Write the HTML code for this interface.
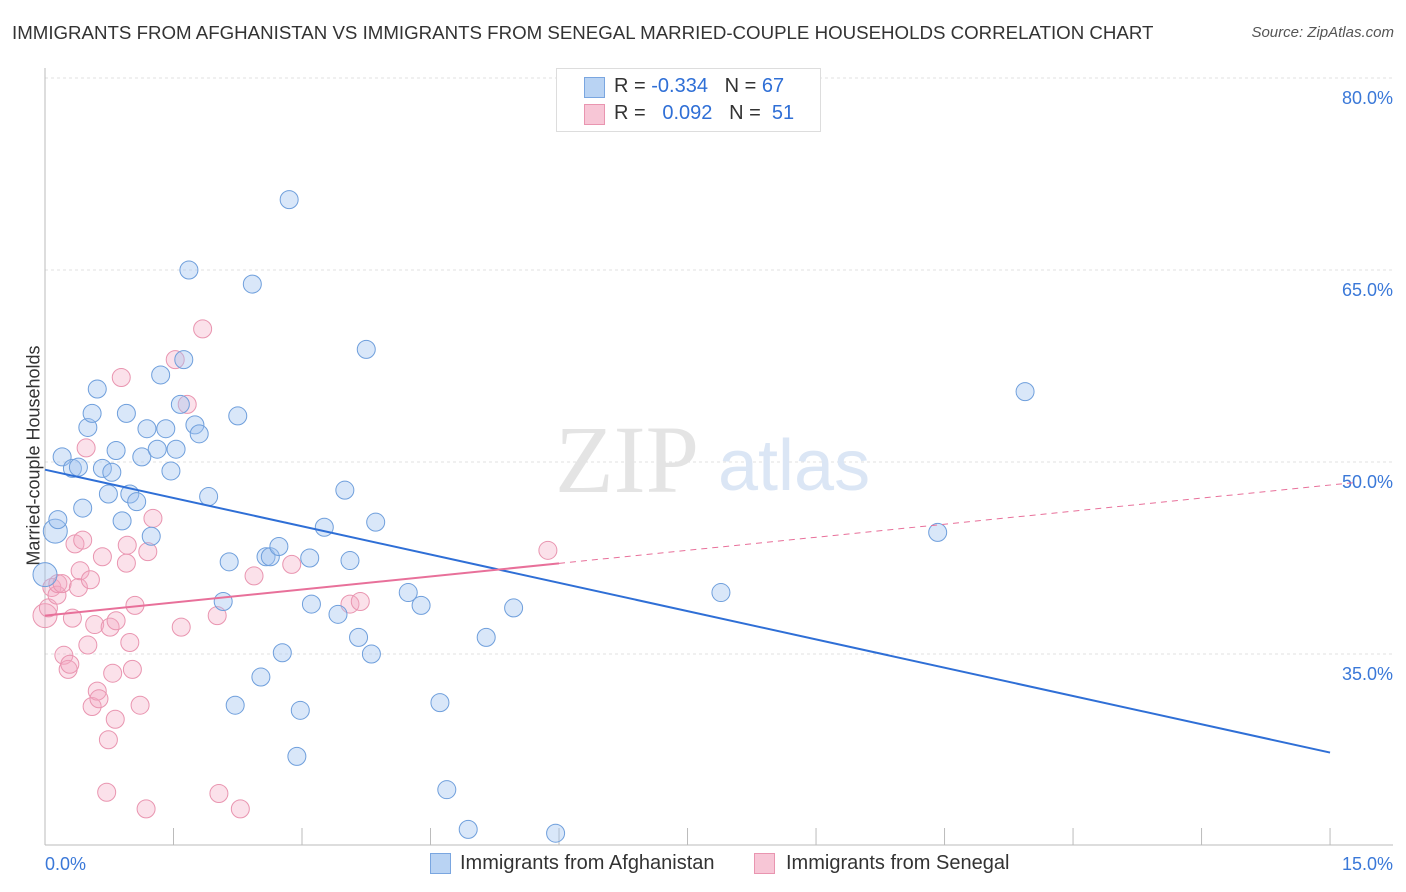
<!DOCTYPE html>
<html><head><meta charset="utf-8"><style>
body{margin:0;background:#fff;font-family:"Liberation Sans",sans-serif;}
#wrap{position:relative;width:1406px;height:892px;overflow:hidden;}
.t{position:absolute;white-space:nowrap;}
</style></head><body>
<div id="wrap">
<div class="t" style="left:12px;top:22px;font-size:18.7px;color:#333;">IMMIGRANTS FROM AFGHANISTAN VS IMMIGRANTS FROM SENEGAL MARRIED-COUPLE HOUSEHOLDS CORRELATION CHART</div>
<div class="t" style="right:12px;top:24px;font-size:15px;color:#555;font-style:italic;">Source: ZipAtlas.com</div>
<div class="t" style="left:-76px;top:445px;font-size:18px;color:#333;transform:rotate(-90deg);">Married-couple Households</div>
<svg id="svg" width="1406" height="892" style="position:absolute;left:0;top:0"></svg>
<div style="position:absolute;left:556px;top:68px;width:263px;height:62px;border:1px solid #ddd;background:#fff;">
 <div style="position:absolute;left:27px;top:8px;width:19px;height:19px;background:#b9d3f3;border:1px solid #7aa6e0;"></div>
 <div class="t" style="left:57px;top:6px;font-size:20px;color:#333;">R = <span style="color:#2f6fd6">-0.334</span>&nbsp;&nbsp;&nbsp;N = <span style="color:#2f6fd6">67</span></div>
 <div style="position:absolute;left:27px;top:35px;width:19px;height:19px;background:#f7c6d6;border:1px solid #e995b0;"></div>
 <div class="t" style="left:57px;top:33px;font-size:20px;color:#333;">R = &nbsp;&nbsp;<span style="color:#2f6fd6">0.092</span>&nbsp;&nbsp;&nbsp;N = &nbsp;<span style="color:#2f6fd6">51</span></div>
</div>
<div style="position:absolute;left:430px;top:853px;">
 <div style="position:absolute;left:0;top:0;width:19px;height:19px;background:#b9d3f3;border:1px solid #7aa6e0;"></div>
 <div class="t" style="left:30px;top:-1px;font-size:20px;color:#333;">Immigrants from Afghanistan</div></div>
<div style="position:absolute;left:754px;top:853px;">
 <div style="position:absolute;left:0;top:0;width:19px;height:19px;background:#f7c6d6;border:1px solid #e995b0;"></div>
 <div class="t" style="left:32px;top:-1px;font-size:20px;color:#333;">Immigrants from Senegal</div></div>
</div>
<script>
const blueX=[0,0.12,0.15,0.2,0.32,0.39,0.44,0.5,0.55,0.61,0.67,0.74,0.78,0.83,0.9,0.95,0.99,1.07,1.13,1.19,1.24,1.31,1.35,1.41,1.47,1.53,1.58,1.62,1.68,1.75,1.8,1.91,2.15,2.08,2.22,2.25,2.42,2.52,2.58,2.63,2.73,2.77,2.85,2.98,2.94,3.09,3.11,3.26,3.42,3.5,3.56,3.66,3.75,3.81,3.86,4.24,4.39,4.61,4.69,4.94,5.15,5.47,5.96,7.89,10.42,11.44];
const blueY=[41.2,44.6,45.5,50.4,49.5,49.6,46.4,52.7,53.8,55.7,49.5,47.5,49.2,50.9,45.4,53.8,47.5,46.9,50.4,52.6,44.2,51.0,56.8,52.6,49.3,51.0,54.5,58.0,65.0,52.9,52.2,47.3,42.2,39.1,31.0,53.6,63.9,33.2,42.6,42.6,43.4,35.1,70.5,30.6,27.0,42.5,38.9,44.9,38.1,47.8,42.3,36.3,58.8,35.0,45.3,39.8,38.8,31.2,24.4,21.3,36.3,38.6,21.0,39.8,44.5,55.5];
const pinkX=[0,0.04,0.08,0.14,0.15,0.2,0.22,0.27,0.29,0.32,0.35,0.39,0.41,0.44,0.48,0.5,0.53,0.55,0.58,0.61,0.63,0.67,0.72,0.74,0.76,0.79,0.83,0.82,0.89,0.95,0.96,0.99,1.02,1.05,1.11,1.18,1.2,1.26,1.52,1.59,1.66,1.84,2.01,2.03,2.28,2.44,2.88,3.56,3.68,5.87];
const pinkY=[38.0,38.6,40.2,39.6,40.5,40.5,34.9,33.8,34.2,37.8,43.6,40.2,41.5,43.9,51.1,35.7,40.8,30.9,37.3,32.1,31.5,42.6,24.2,28.3,37.1,33.5,37.6,29.9,56.6,42.1,43.5,35.9,33.8,38.8,31.0,22.9,43.0,45.6,58.0,37.1,54.5,60.4,38.0,24.1,22.9,41.1,42.0,38.9,39.1,43.1];
const yTicks=[80,65,50,35];
const xLabels=["0.0%","15.0%"];
const blueTrend=[49.4,27.3], pinkTrend=[38.0,48.2];
const X=v=>45+v*85.67, Y=v=>78+(80-v)*12.8;
const svg=document.getElementById('svg'),NS='http://www.w3.org/2000/svg';
function mk(t,a,p){const e=document.createElementNS(NS,t);for(const k in a)e.setAttribute(k,a[k]);(p||svg).appendChild(e);return e;}
yTicks.forEach(v=>{const l=mk('line',{x1:45,x2:1393,y1:Y(v),y2:Y(v),stroke:'#e0e0e0','stroke-dasharray':'3,3'});


const t=mk('text',{x:1393,y:Y(v)+26,'text-anchor':'end','font-size':18,fill:'#3a78d8','font-family':'Liberation Sans'});t.textContent=v.toFixed(1)+'%';

});
mk('line',{x1:45,x2:45,y1:68,y2:845,stroke:'#bbb'});
mk('line',{x1:45,x2:1393,y1:845,y2:845,stroke:'#bbb'});
for(let i=0;i<=10;i++){const x=X(i*1.5);const tk=mk('line',{x1:x,x2:x,y1:828,y2:845,stroke:'#bbb'});

}
const xl0=mk('text',{x:45,y:870,'font-size':18,fill:'#3a78d8','font-family':'Liberation Sans'});xl0.textContent=xLabels[0];


const xl1=mk('text',{x:1393,y:870,'text-anchor':'end','font-size':18,fill:'#3a78d8','font-family':'Liberation Sans'});xl1.textContent=xLabels[1];


const wm=mk('text',{x:555,y:492,'font-size':96,fill:'#e4e4e4','font-family':'Liberation Serif'});wm.textContent='ZIP';


const wm2=mk('text',{x:718,y:490,'font-size':72,fill:'#dbe6f5','font-family':'Liberation Sans'});wm2.textContent='atlas';


pinkX.forEach((x,i)=>{const c=mk('circle',{cx:X(x),cy:Y(pinkY[i]),r:i==0?12:9,fill:'rgba(244,170,196,0.35)',stroke:'#e995b0','stroke-width':1});

});
blueX.forEach((x,i)=>{const c=mk('circle',{cx:X(x),cy:Y(blueY[i]),r:(i<2)?12:9,fill:'rgba(160,196,240,0.4)',stroke:'#6f9fdc','stroke-width':1});

});
const bt=mk('line',{x1:X(0),y1:Y(blueTrend[0]),x2:X(15),y2:Y(blueTrend[1]),stroke:'#2f6fd6','stroke-width':2});


const py=x=>pinkTrend[0]+(pinkTrend[1]-pinkTrend[0])*x/15;
const ps=mk('line',{x1:X(0),y1:Y(py(0)),x2:X(6),y2:Y(py(6)),stroke:'#e8709a','stroke-width':2});


const pd=mk('line',{x1:X(6),y1:Y(py(6)),x2:X(15.3),y2:Y(py(15.3)),stroke:'#e8709a','stroke-width':1,'stroke-dasharray':'6,5'});


</script>
</body></html>
